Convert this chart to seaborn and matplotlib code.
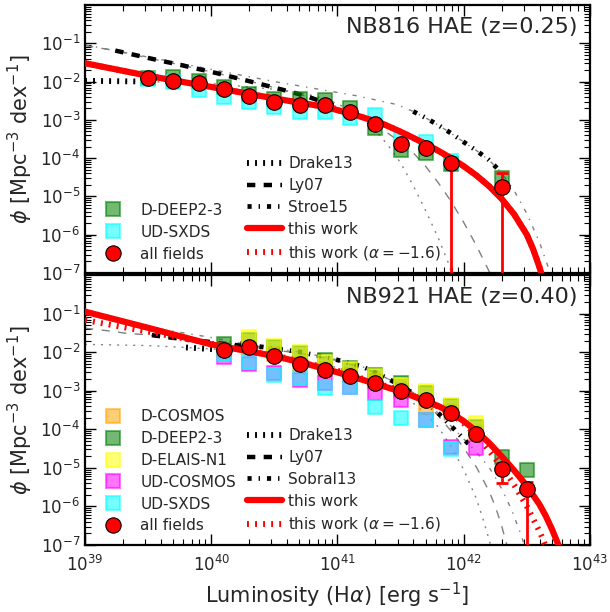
import numpy as np
import matplotlib
matplotlib.use("Agg")
import matplotlib.pyplot as plt
import seaborn as sns
from matplotlib.lines import Line2D
from matplotlib.ticker import LogLocator, NullFormatter

# ---------------- data (log10 values) ----------------
# NB816, z=0.25
lum_top = [39.5, 39.7, 39.9, 40.1, 40.3, 40.5, 40.7, 40.9, 41.1, 41.3, 41.5, 41.7, 41.9, 42.3]
all_top = [-1.91, -1.98, -2.04, -2.20, -2.38, -2.53, -2.61, -2.61, -2.79, -3.11, -3.63, -3.74, -4.13, -4.75]
all_top_lo = [-1.96, -2.03, -2.09, -2.25, -2.43, -2.58, -2.66, -2.66, -2.84, -3.16, -3.70, -3.82, -9.0, -9.0]
all_top_hi = [-1.86, -1.93, -1.99, -2.15, -2.33, -2.48, -2.56, -2.56, -2.74, -3.06, -3.56, -3.66, -4.02, -4.39]
deep2_top = [-1.90, -1.87, -1.98, -2.15, -2.32, -2.45, -2.45, -2.48, -2.70, -3.22, -3.79, -3.87, -4.15, -4.53]
sxds_top = [-1.93, -2.02, -2.22, -2.41, -2.53, -2.66, -2.79, -2.79, -2.96, -2.87, -3.50, -3.57, -4.08, np.nan]

# model curves, z=0.25
drake_top_x = [39.0, 39.5, 40.0, 40.5, 40.8, 40.9, 41.0, 41.1, 41.2, 41.3, 41.4, 41.5, 41.6, 41.7, 41.8, 41.88, 41.93]
drake_top_y = [-1.98, -2.0, -2.05, -2.2, -2.36, -2.45, -2.58, -2.75, -2.98, -3.28, -3.66, -4.12, -4.72, -5.38, -6.1, -6.75, -7.3]
ly07_top_x = [39.0, 39.24, 39.51, 39.79, 40.07, 40.35, 40.62, 40.76, 41.0, 41.1, 41.2, 41.3, 41.4, 41.5,
              41.6, 41.7, 41.8, 41.9, 42.0, 42.1, 42.2, 42.25]
ly07_top_y = [-1.06, -1.19, -1.39, -1.59, -1.80, -2.03, -2.26, -2.39, -2.66, -2.81, -2.97, -3.15, -3.35, -3.58,
              -3.86, -4.22, -4.65, -5.13, -5.68, -6.28, -6.95, -7.3]
stroe_top_x = [39.0, 39.5, 40.0, 40.5, 40.8, 41.15, 41.47, 41.6, 41.7, 41.8, 41.9, 42.0, 42.1, 42.2, 42.3,
               42.4, 42.5, 42.6, 42.68, 42.72]
stroe_top_y = [-1.04, -1.36, -1.68, -2.0, -2.17, -2.37, -2.6, -2.78, -2.95, -3.14, -3.35, -3.58, -3.8, -4.05,
               -4.38, -4.85, -5.45, -6.2, -6.95, -7.35]
fit_top_x = [39.0, 39.5, 40.0, 40.5, 40.9, 41.1, 41.35, 41.5, 41.6, 41.7, 41.8, 41.9, 42.0, 42.1, 42.2,
             42.3, 42.4, 42.5, 42.55, 42.6, 42.64]
fit_top_y = [-1.52, -1.85, -2.14, -2.44, -2.66, -2.83, -3.09, -3.31, -3.47, -3.63, -3.81, -4.00, -4.21, -4.45,
             -4.73, -5.06, -5.47, -6.00, -6.38, -6.85, -7.3]
fit16_top_y = fit_top_y
range_top = {"Drake13": (39.0, 39.9), "Ly07": (39.2, 41.0), "Stroe15": (41.5, 42.3)}

# NB921, z=0.40
lum_bot = [40.1, 40.3, 40.5, 40.7, 40.9, 41.1, 41.3, 41.5, 41.7, 41.9, 42.1, 42.3, 42.5]
all_bot = [-1.94, -1.88, -2.09, -2.31, -2.46, -2.61, -2.79, -3.01, -3.24, -3.57, -4.12, -5.04, -5.55]
all_bot_lo = [-1.99, -1.93, -2.14, -2.36, -2.51, -2.66, -2.84, -3.06, -3.30, -3.64, -4.22, -5.40, -9.0]
all_bot_hi = [-1.89, -1.83, -2.04, -2.26, -2.41, -2.56, -2.74, -2.96, -3.18, -3.50, -4.02, -4.88, -5.38]
dcosmos_bot = [-1.95, -1.90, -2.05, -2.30, -2.45, -2.60, -2.75, -2.98, -3.41, -3.55, -4.10, np.nan, np.nan]
deep2_bot = [-1.78, -1.68, -1.86, -2.03, -2.20, -2.42, -2.59, -2.81, -3.07, -3.40, -3.95, -4.71, -5.06]
elais_bot = [np.nan, -1.62, -1.83, -2.00, -2.25, -2.45, -2.62, -2.85, -3.02, -3.37, -3.85, np.nan, np.nan]
udcosmos_bot = [-2.12, -2.30, -2.55, -2.72, -2.80, -2.90, -3.07, -3.24, -3.76, -4.47, -4.49, np.nan, np.nan]
sxds_bot = [-2.05, -2.25, -2.59, -2.68, -2.94, -2.90, -3.41, -3.72, -3.76, -4.50, np.nan, np.nan, np.nan]

drake_bot_x = [39.0, 39.5, 39.8, 40.05, 40.5, 41.0, 41.4, 41.5, 41.6, 41.7, 41.8, 41.9, 42.0, 42.1, 42.15, 42.2, 42.24]
drake_bot_y = [-1.80, -1.83, -1.88, -1.93, -2.08, -2.40, -2.90, -3.08, -3.32, -3.60, -3.95, -4.45, -5.05, -5.80,
               -6.30, -6.85, -7.35]
ly07_bot_x = [39.0, 39.19, 39.32, 39.53, 39.67, 40.0, 40.3, 40.7, 41.0, 41.3, 41.6, 41.7, 41.8, 41.9, 42.0,
              42.1, 42.2, 42.25, 42.3, 42.35]
ly07_bot_y = [-1.38, -1.45, -1.51, -1.56, -1.62, -1.74, -1.86, -2.03, -2.22, -2.52, -3.05, -3.33, -3.65, -4.05,
              -4.48, -4.98, -5.6, -6.0, -6.5, -7.1]
sobral_bot_x = [39.0, 39.5, 40.0, 40.23, 40.39, 40.69, 40.95, 41.2, 41.34, 41.47, 41.6, 41.71, 41.81, 41.94,
                42.05, 42.1, 42.2, 42.25, 42.31, 42.38, 42.45, 42.5]
sobral_bot_y = [-1.0, -1.35, -1.62, -1.77, -1.86, -1.99, -2.16, -2.38, -2.59, -2.81, -3.07, -3.33, -3.62, -4.05,
                -4.42, -4.6, -4.98, -5.25, -5.6, -6.1, -6.7, -7.2]
fit_bot_x = [39.0, 39.5, 40.0, 40.3, 40.5, 40.7, 40.9, 41.1, 41.3, 41.5, 41.7, 41.8, 41.9, 42.0, 42.1, 42.2,
             42.3, 42.4, 42.5, 42.6, 42.65, 42.7, 42.75, 42.8]
fit_bot_y = [-0.95, -1.37, -1.80, -1.98, -2.10, -2.26, -2.43, -2.62, -2.82, -3.02, -3.27, -3.40, -3.57, -3.79,
             -4.05, -4.35, -4.70, -5.07, -5.47, -5.95, -6.25, -6.6, -7.0, -7.45]
fit16_bot_x = [39.0, 39.5, 40.0, 40.5, 41.0, 41.5, 41.7, 41.8, 41.9, 42.0, 42.1, 42.2, 42.3, 42.35, 42.4,
               42.5, 42.6, 42.63, 42.68]
fit16_bot_y = [-1.17, -1.47, -1.78, -2.08, -2.48, -3.00, -3.27, -3.42, -3.60, -3.85, -4.15, -4.55, -4.97,
               -5.20, -5.45, -6.00, -6.65, -6.87, -7.3]
range_bot = {"Drake13": (39.7, 40.05), "Ly07": (39.45, 40.3), "Sobral13": (40.2, 42.05)}

# ---------------- styling ----------------
sns.set_style("ticks")
plt.rcParams["font.family"] = ["DejaVu Sans"]
plt.rcParams["lines.scale_dashes"] = False
plt.rcParams["mathtext.fontset"] = "dejavusans"

DOT = (1.4, 4.4)
DASH = (6, 6)
DASHDOT = (3, 5, 1, 5)
THICK = {DOT: 4.2, DASH: 3.2, DASHDOT: 3.4}
field_colors = {"D-COSMOS": "orange", "D-DEEP2-3": "green", "D-ELAIS-N1": "yellow",
                "UD-COSMOS": "magenta", "UD-SXDS": "cyan"}


def p(v):
    return 10.0 ** np.asarray(v, dtype=float)


def draw_model(ax, lx, ly, dash, rng):
    lx = np.asarray(lx)
    ly = np.asarray(ly)
    sns.lineplot(x=p(lx), y=p(ly), ax=ax, color="gray", lw=1.0,
                 linestyle=(0, dash), errorbar=None, zorder=1)
    m = (lx >= rng[0]) & (lx <= rng[1])
    sns.lineplot(x=p(lx[m]), y=p(ly[m]), ax=ax, color="black", lw=THICK[dash],
                 linestyle=(0, dash), errorbar=None, zorder=2)


def draw_fields(ax, lum, fields):
    for name, vals in fields.items():
        c = field_colors[name]
        sns.scatterplot(x=p(lum), y=p(vals), ax=ax, marker="s", s=95, color=c,
                        edgecolor=c, linewidth=1.5, alpha=0.55, zorder=3)


def draw_all(ax, lum, val, lo, hi):
    y = p(val)
    ax.errorbar(p(lum), y, yerr=[y - p(lo), p(hi) - y], fmt="none", ecolor="red",
                elinewidth=2, capsize=4, capthick=2, zorder=5)
    sns.scatterplot(x=p(lum), y=y, ax=ax, marker="o", s=125, color="red",
                    edgecolor="black", linewidth=0.8, zorder=6)


def setup_axes(ax):
    ax.set_xscale("log")
    ax.set_yscale("log")
    ax.set_xlim(1e39, 1e43)
    ax.set_ylim(1e-7, 1e0)
    ax.set_yticks(p(np.arange(-7, 0)))
    ax.set_xticks(p(np.arange(39, 44)))
    for axis in (ax.xaxis, ax.yaxis):
        axis.set_minor_locator(LogLocator(base=10, subs=np.arange(2, 10), numticks=100))
        axis.set_minor_formatter(NullFormatter())
    ax.tick_params(which="both", direction="in", top=True, right=True, labelsize=12,
                   color="black")
    ax.tick_params(which="major", length=8, width=1)
    ax.tick_params(which="minor", length=4, width=0.8)
    ax.tick_params(axis="x", pad=7)
    for s in ax.spines.values():
        s.set_linewidth(1.6)
        s.set_color("black")
    ax.set_ylabel(r"$\phi$ [Mpc$^{-3}$ dex$^{-1}$]", fontsize=15)


def model_legend(ax, labels, y0):
    handles = [
        Line2D([], [], color="black", lw=THICK[DOT], linestyle=(0, DOT)),
        Line2D([], [], color="black", lw=THICK[DASH], linestyle=(0, DASH)),
        Line2D([], [], color="black", lw=THICK[DASHDOT], linestyle=(0, DASHDOT)),
        Line2D([], [], color="red", lw=4.5),
        Line2D([], [], color="red", lw=4.2, linestyle=(0, DOT)),
    ]
    leg = ax.legend(handles, labels, loc="lower left", bbox_to_anchor=(0.309, y0),
                    borderaxespad=0, frameon=False, fontsize=11, handlelength=2.3,
                    handletextpad=0.4, labelspacing=0.45)
    return leg


def field_legend(ax, names, y0):
    handles = []
    for n in names:
        c = field_colors[n]
        handles.append(Line2D([], [], ls="none", marker="s", markersize=9.5, color=c,
                              markeredgecolor=c, markeredgewidth=1.5, alpha=0.55))
    handles.append(Line2D([], [], ls="none", marker="o", markersize=11, color="red",
                          markeredgecolor="black", markeredgewidth=0.8))
    leg = ax.legend(handles, names + ["all fields"], loc="lower left",
                    bbox_to_anchor=(0.028, y0), borderaxespad=0, frameon=False,
                    fontsize=11, handlelength=1.0, handletextpad=1.3, labelspacing=0.45,
                    numpoints=1)
    return leg


fig = plt.figure(figsize=(6.1, 6.12), dpi=100)
ax1 = fig.add_axes([0.1393, 0.5539, 0.8279, 0.4379])
ax2 = fig.add_axes([0.1393, 0.1095, 0.8279, 0.4412])

# ---- top panel ----
draw_model(ax1, drake_top_x, drake_top_y, DOT, range_top["Drake13"])
draw_model(ax1, ly07_top_x, ly07_top_y, DASH, range_top["Ly07"])
draw_model(ax1, stroe_top_x, stroe_top_y, DASHDOT, range_top["Stroe15"])
draw_fields(ax1, lum_top, {"D-DEEP2-3": deep2_top, "UD-SXDS": sxds_top})
sns.lineplot(x=p(fit_top_x), y=p(fit16_top_y), ax=ax1, color="red", lw=4.2,
             linestyle=(0, DOT), errorbar=None, zorder=4)
sns.lineplot(x=p(fit_top_x), y=p(fit_top_y), ax=ax1, color="red", lw=4.5,
             errorbar=None, zorder=4)
draw_all(ax1, lum_top, all_top, all_top_lo, all_top_hi)
setup_axes(ax1)
ax1.tick_params(labelbottom=False)
ax1.text(0.976, 0.918, "NB816 HAE (z=0.25)", transform=ax1.transAxes, ha="right",
         va="center", fontsize=16)
leg1 = model_legend(ax1, ["Drake13", "Ly07", "Stroe15", "this work",
                          r"this work ($\alpha=-1.6$)"], 0.02)
ax1.add_artist(leg1)
field_legend(ax1, ["D-DEEP2-3", "UD-SXDS"], 0.02)

# ---- bottom panel ----
draw_model(ax2, drake_bot_x, drake_bot_y, DOT, range_bot["Drake13"])
draw_model(ax2, ly07_bot_x, ly07_bot_y, DASH, range_bot["Ly07"])
draw_model(ax2, sobral_bot_x, sobral_bot_y, DASHDOT, range_bot["Sobral13"])
draw_fields(ax2, lum_bot, {"D-COSMOS": dcosmos_bot, "D-DEEP2-3": deep2_bot,
                           "D-ELAIS-N1": elais_bot, "UD-COSMOS": udcosmos_bot,
                           "UD-SXDS": sxds_bot})
sns.lineplot(x=p(fit16_bot_x), y=p(fit16_bot_y), ax=ax2, color="red", lw=4.2,
             linestyle=(0, DOT), errorbar=None, zorder=4)
sns.lineplot(x=p(fit_bot_x), y=p(fit_bot_y), ax=ax2, color="red", lw=4.5,
             errorbar=None, zorder=4)
draw_all(ax2, lum_bot, all_bot, all_bot_lo, all_bot_hi)
setup_axes(ax2)
ax2.text(0.976, 0.918, "NB921 HAE (z=0.40)", transform=ax2.transAxes, ha="right",
         va="center", fontsize=16)
ax2.set_xlabel(r"Luminosity (H$\alpha$) [erg s$^{-1}$]", fontsize=15)
leg2 = model_legend(ax2, ["Drake13", "Ly07", "Sobral13", "this work",
                          r"this work ($\alpha=-1.6$)"], 0.02)
ax2.add_artist(leg2)
field_legend(ax2, ["D-COSMOS", "D-DEEP2-3", "D-ELAIS-N1", "UD-COSMOS", "UD-SXDS"], 0.02)

fig.savefig("out.png", dpi=100)
